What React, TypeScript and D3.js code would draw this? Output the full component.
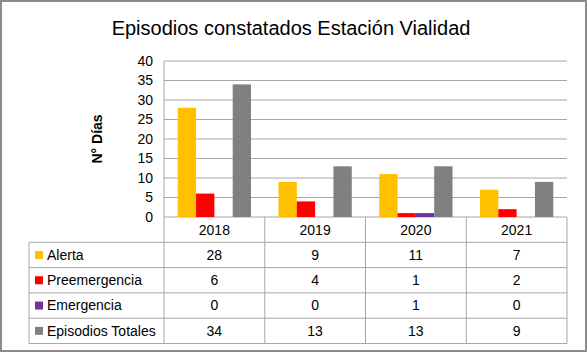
import React from "react";
import * as d3 from "d3";

const years = ["2018", "2019", "2020", "2021"];
const seriesNames = ["Alerta", "Preemergencia", "Emergencia", "Episodios Totales"];
const alerta = [28, 9, 11, 7];
const preemergencia = [6, 4, 1, 2];
const emergencia = [0, 0, 1, 0];
const totales = [34, 13, 13, 9];
const yTicks = [0, 5, 10, 15, 20, 25, 30, 35, 40];

const COLORS = ["#FFC000", "#FF0000", "#7030A0", "#808080"];
const FONT = "'Liberation Sans', Arial, sans-serif";

const App = () => {
  const width = 587;
  const height = 352;
  const PLOT = { LEFT: 164, RIGHT: 567, TOP: 61, BOTTOM: 217 };
  const TABLE_LEFT = 29;
  const ROW_H = 25.3;

  const values = [alerta, preemergencia, emergencia, totales];

  const x0 = d3.scaleBand().domain(years).range([PLOT.LEFT, PLOT.RIGHT]).padding(0);
  const bw = x0.bandwidth();
  const gap = (bw / 5.5) * 1.5 / 2; // excel gap width 150%
  const x1 = d3
    .scaleBand()
    .domain(seriesNames)
    .range([gap, bw - gap])
    .padding(0);

  const y = d3.scaleLinear().domain([0, 40]).range([PLOT.BOTTOM, PLOT.TOP]);

  const headerBottom = PLOT.BOTTOM + ROW_H;
  const rowY = (i: number) => headerBottom + i * ROW_H;
  const tableBottom = rowY(seriesNames.length);

  return (
    <svg
      width={width}
      height={height}
      style={{ position: "absolute", left: 0, top: 0, background: "#fff" }}
      fontFamily={FONT}
    >
      <rect x={1} y={1} width={width - 2} height={height - 2} fill="#fff" stroke="#8c8c8c" strokeWidth={2} />

      <text x={291} y={35} textAnchor="middle" fontSize={20} fill="#000">
        Episodios constatados Estación Vialidad
      </text>

      {/* gridlines */}
      {yTicks.map((t) => (
        <line key={t} x1={PLOT.LEFT} x2={PLOT.RIGHT} y1={y(t)} y2={y(t)} stroke="#a6a6a6" strokeWidth={1} />
      ))}
      <line x1={PLOT.LEFT} x2={PLOT.LEFT} y1={PLOT.TOP} y2={tableBottom} stroke="#a6a6a6" />

      {/* y ticks */}
      {yTicks.map((t) => (
        <text key={t} x={153} y={y(t)} dy="0.35em" textAnchor="end" fontSize={14} fill="#000">
          {t}
        </text>
      ))}
      <text
        transform={`translate(102, ${(PLOT.TOP + PLOT.BOTTOM) / 2}) rotate(-90)`}
        textAnchor="middle"
        fontSize={14}
        fontWeight="bold"
        fill="#000"
      >
        N° Días
      </text>

      {/* bars */}
      {years.map((yr, i) => (
        <g key={yr} transform={`translate(${x0(yr)}, 0)`}>
          {seriesNames.map((s, j) => (
            <rect
              key={s}
              x={x1(s)}
              y={y(values[j][i])}
              width={x1.bandwidth()}
              height={PLOT.BOTTOM - y(values[j][i])}
              fill={COLORS[j]}
            />
          ))}
        </g>
      ))}

      {/* data table */}
      {years.map((yr) => (
        <text key={yr} x={(x0(yr) || 0) + bw / 2} y={PLOT.BOTTOM + ROW_H / 2} dy="0.35em" textAnchor="middle" fontSize={14}>
          {yr}
        </text>
      ))}
      {[0, 1, 2, 3, 4].map((i) => (
        <line key={i} x1={TABLE_LEFT} x2={PLOT.RIGHT} y1={rowY(i)} y2={rowY(i)} stroke="#a6a6a6" />
      ))}
      <line x1={TABLE_LEFT} x2={TABLE_LEFT} y1={headerBottom} y2={tableBottom} stroke="#a6a6a6" />
      {years.map((yr) => (
        <line
          key={yr}
          x1={(x0(yr) || 0) + bw}
          x2={(x0(yr) || 0) + bw}
          y1={PLOT.BOTTOM}
          y2={tableBottom}
          stroke="#a6a6a6"
        />
      ))}
      {seriesNames.map((s, j) => (
        <g key={s}>
          <rect x={35} y={rowY(j) + ROW_H / 2 - 4} width={8} height={8} fill={COLORS[j]} />
          <text x={47} y={rowY(j) + ROW_H / 2} dy="0.35em" fontSize={14}>
            {s}
          </text>
          {years.map((yr, i) => (
            <text key={yr} x={(x0(yr) || 0) + bw / 2} y={rowY(j) + ROW_H / 2} dy="0.35em" textAnchor="middle" fontSize={14}>
              {values[j][i]}
            </text>
          ))}
        </g>
      ))}
    </svg>
  );
};

export default App;
